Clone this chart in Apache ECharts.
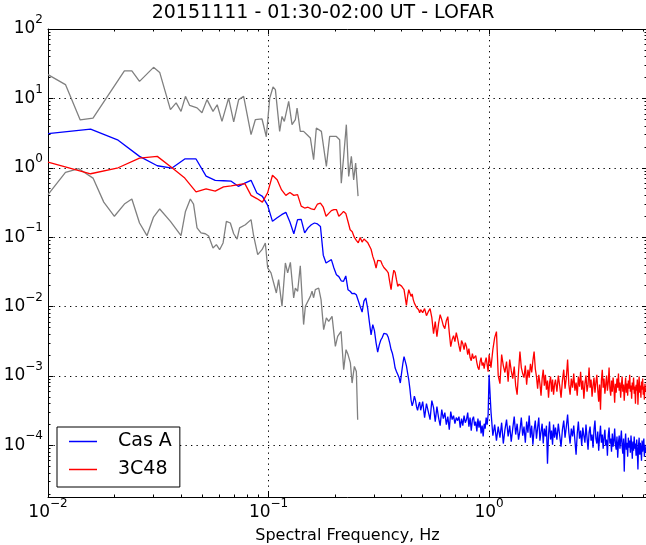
<!DOCTYPE html>
<html><head><meta charset="utf-8">
<script src="https://cdn.jsdelivr.net/npm/echarts@6/dist/echarts.min.js"></script>
<style>html,body{margin:0;padding:0;background:#fff}#chart{width:646px;height:545px}</style>
</head><body><div id="chart"></div>
<script>
const titleText = '20151111 - 01:30-02:00 UT - LOFAR';
const xAxisTitle = 'Spectral Frequency, Hz';
const seriesNames = ['Cas A', '3C48'];
const xMin = 0.01, xMax = 5.2, yMin = 1.8e-5, yMax = 100;

// low-frequency bins shared by Cas A and 3C48
const freqLo = [
0.0100,0.0156,0.0208,0.0260,0.0313,0.0365,0.0417,0.0469,0.0521,0.0573,
0.0625,0.0677,0.0729,0.0781,0.0833,0.0885,0.0938,0.0990,0.1042,0.1094,
0.1146,0.1198,0.1250,0.1302,0.1354,0.1406,0.1458,0.1510,0.1563,0.1615,
0.1667,0.1719,0.1771,0.1823,0.1875,0.1927,0.1979,0.2031,0.2083,0.2135,
0.2188,0.2240,0.2292,0.2344,0.2396,0.2448,0.2500,0.2552,0.2604,0.2656,
0.2708,0.2760,0.2813,0.2865,0.2917,0.2969,0.3021,0.3073,0.3125,0.3177,
0.3229,0.3281,0.3333,0.3385,0.3438,0.3490,0.3542,0.3594,0.3646,0.3698,
0.3750,0.3802,0.3854,0.3906,0.3958,0.4010,0.4063,0.4115,0.4167,0.4219,
0.4271,0.4323,0.4375,0.4427,0.4479,0.4531,0.4583,0.4635,0.4688,0.4740,
0.4792,0.4844,0.4896];
const casALo = [
3.1,3.6,2.5,1.46,1.07,0.99,1.34,1.34,0.76,0.66,
0.65,0.64,0.54,0.60,0.66,0.434,0.387,0.29,0.169,0.19,
0.211,0.228,0.165,0.112,0.179,0.18,0.115,0.136,0.151,0.16,
0.155,0.143,0.055,0.0425,0.045,0.0474,0.036,0.0288,0.027,0.0235,
0.0231,0.0276,0.0175,0.0166,0.0153,0.0155,0.0148,0.0157,0.0100,0.0083,
0.0120,0.0133,0.0096,0.006,0.0039,0.0055,0.0045,0.003,0.0022,0.0028,
0.0033,0.0036,0.0041,0.0043,0.0040,0.0036,0.0030,0.0024,0.0021,0.0017,
0.0013,0.00116,0.00105,0.00095,0.00079,0.0011,0.0015,0.0019,0.0019,0.0014,
0.0011,0.00088,0.00065,0.00045,0.00037,0.00042,0.00051,0.00045,0.00036,0.00032,
0.00038,0.00042,0.00032];
const c3c48Lo = [
1.21,0.82,1.00,1.38,1.46,1.00,0.71,0.45,0.495,0.46,
0.53,0.55,0.57,0.59,0.40,0.36,0.32,0.434,0.78,0.674,
0.48,0.40,0.44,0.40,0.41,0.28,0.263,0.27,0.256,0.25,
0.30,0.31,0.27,0.20,0.22,0.241,0.25,0.25,0.20,0.215,
0.235,0.22,0.168,0.128,0.12,0.10,0.09,0.083,0.099,0.085,
0.094,0.09,0.084,0.083,0.067,0.0528,0.045,0.0358,0.0463,0.045,
0.0455,0.040,0.0365,0.0358,0.0328,0.0305,0.0228,0.0175,0.0258,0.0334,
0.031,0.0244,0.0195,0.021,0.0217,0.0197,0.019,0.0175,0.0185,0.0104,
0.014,0.0175,0.0165,0.014,0.0152,0.0126,0.0112,0.0116,0.0097,0.0101,
0.0090,0.0081,0.009];

// high-frequency samples shared by Cas A and 3C48
const freqHi = [
0.50,0.51,0.52,0.53,0.54,0.55,0.56,0.57,0.58,0.59,
0.60,0.61,0.62,0.63,0.64,0.65,0.66,0.67,0.68,0.69,
0.70,0.71,0.72,0.73,0.74,0.75,0.76,0.77,0.78,0.79,
0.80,0.81,0.82,0.83,0.84,0.85,0.86,0.87,0.88,0.89,
0.90,0.91,0.92,0.93,0.94,0.95,0.96,0.97,0.98,0.99,
1.00,1.02,1.04,1.06,1.08,1.10,1.12,1.14,1.16,1.18,
1.20,1.22,1.24,1.26,1.28,1.30,1.32,1.34,1.36,1.38,
1.40,1.42,1.44,1.46,1.48,1.50,1.52,1.54,1.56,1.58,
1.60,1.62,1.64,1.66,1.68,1.70,1.72,1.74,1.76,1.78,
1.80,1.82,1.84,1.86,1.88,1.90,1.92,1.94,1.96,1.98,
2.00,2.03,2.06,2.09,2.12,2.15,2.18,2.21,2.24,2.27,
2.30,2.33,2.36,2.39,2.42,2.45,2.48,2.51,2.54,2.57,
2.60,2.63,2.66,2.69,2.72,2.75,2.78,2.81,2.84,2.87,
2.90,2.93,2.96,2.99,3.02,3.05,3.08,3.11,3.14,3.17,
3.20,3.23,3.26,3.29,3.32,3.35,3.38,3.41,3.44,3.47,
3.50,3.53,3.56,3.59,3.62,3.65,3.68,3.71,3.74,3.77,
3.80,3.83,3.86,3.89,3.92,3.95,3.98,4.01,4.04,4.07,
4.10,4.13,4.16,4.19,4.22,4.25,4.28,4.31,4.34,4.37,
4.40,4.43,4.46,4.49,4.52,4.55,4.58,4.61,4.64,4.67,
4.70,4.73,4.76,4.79,4.82,4.85,4.88,4.91,4.94,4.97,
5.00,5.03,5.06,5.09,5.12,5.15];
const casAHi = [
4.26e-4,2.51e-4,3.99e-4,3.06e-4,2.35e-4,4.41e-4,3.49e-4,2.20e-4,3.61e-4,2.51e-4,
1.92e-4,3.27e-4,2.43e-4,2.96e-4,1.99e-4,2.59e-4,1.68e-4,3.06e-4,2.35e-4,2.68e-4,
2.05e-4,2.51e-4,2.27e-4,2.59e-4,1.80e-4,2.43e-4,1.92e-4,2.68e-4,2.12e-4,2.35e-4,
2.96e-4,1.86e-4,2.51e-4,1.63e-4,2.35e-4,2.59e-4,1.92e-4,2.20e-4,1.58e-4,2.43e-4,
1.80e-4,2.27e-4,1.48e-4,1.92e-4,1.34e-4,2.05e-4,1.74e-4,2.51e-4,1.99e-4,2.77e-4,
1.04e-3,3.06e-4,1.38e-4,1.99e-4,1.17e-4,1.86e-4,1.29e-4,2.12e-4,1.06e-4,1.68e-4,
2.35e-4,1.34e-4,1.92e-4,1.13e-4,1.74e-4,2.59e-4,1.43e-4,2.05e-4,1.21e-4,1.63e-4,
2.51e-4,1.38e-4,1.86e-4,1.09e-4,2.20e-4,1.52e-4,2.68e-4,1.29e-4,1.92e-4,1.02e-4,
1.68e-4,2.27e-4,1.25e-4,1.80e-4,2.51e-4,1.17e-4,1.58e-4,2.05e-4,1.06e-4,1.74e-4,
1.34e-4,1.92e-4,5.45e-5,1.43e-4,2.20e-4,1.21e-4,1.63e-4,1.02e-4,1.99e-4,1.29e-4,
1.80e-4,1.21e-4,2.05e-4,1.38e-4,9.58e-5,1.68e-4,2.27e-4,1.29e-4,1.86e-4,2.77e-4,
1.52e-4,1.06e-4,1.74e-4,1.34e-4,1.92e-4,1.17e-4,7.34e-5,1.48e-4,2.20e-4,1.25e-4,
1.63e-4,9.9e-5,1.80e-4,1.38e-4,1.09e-4,1.99e-4,1.29e-4,8.67e-5,1.52e-4,1.86e-4,
1.17e-4,1.43e-4,9.27e-5,1.68e-4,2.27e-4,1.25e-4,1.06e-4,1.58e-4,8.39e-5,1.34e-4,
1.92e-4,1.09e-4,1.43e-4,8.96e-5,1.29e-4,1.68e-4,9.9e-5,1.21e-4,7.11e-5,1.38e-4,
1.80e-4,1.06e-4,1.25e-4,8.11e-5,1.48e-4,9.58e-5,1.17e-4,1.74e-4,1.02e-4,8.67e-5,
1.34e-4,6.65e-5,1.09e-4,1.38e-4,8.96e-5,1.21e-4,1.63e-4,9.58e-5,7.59e-5,1.25e-4,
4.18e-5,1.02e-4,1.48e-4,8.67e-5,1.09e-4,6.87e-5,1.29e-4,9.27e-5,1.17e-4,7.85e-5,
1.38e-4,9.9e-5,6.43e-5,1.13e-4,8.39e-5,1.34e-4,8.96e-5,1.06e-4,7.11e-5,1.21e-4,
8.11e-5,4.47e-5,9.9e-5,1.29e-4,7.34e-5,1.09e-4,8.67e-5,6.02e-5,1.17e-4,8.11e-5,
9.9e-5,1.25e-4,6.87e-5,1.02e-4,7.85e-5,9.27e-5];
const c3c48Hi = [
8.17e-3,9.35e-3,7.39e-3,8.44e-3,9.35e-3,6.92e-3,4.07e-3,6.06e-3,3.69e-3,5.67e-3,
7.64e-3,6.48e-3,5.31e-3,4.81e-3,6.26e-3,7.15e-3,4.21e-3,2.64e-3,3.34e-3,3.81e-3,
3.12e-3,4.21e-3,3.45e-3,2.73e-3,2.24e-3,3.23e-3,2.92e-3,2.39e-3,3.02e-3,2.64e-3,
2.03e-3,2.47e-3,1.84e-3,1.66e-3,2.10e-3,1.78e-3,1.90e-3,1.96e-3,1.56e-3,1.32e-3,
1.23e-3,1.61e-3,1.84e-3,1.41e-3,1.56e-3,1.27e-3,1.61e-3,1.84e-3,1.45e-3,1.15e-3,
2.03e-3,1.32e-3,2.39e-3,3.56e-3,4.35e-3,1.01e-3,7.74e-4,2.03e-3,1.41e-3,1.12e-3,
1.61e-3,8.28e-4,1.72e-3,1.19e-3,9.14e-4,1.36e-3,7.25e-4,5.38e-4,1.15e-3,2.24e-3,
1.32e-3,1.08e-3,9.45e-4,1.41e-3,7.49e-4,1.23e-3,9.45e-4,1.50e-3,1.12e-3,1.66e-3,
2.24e-3,1.27e-3,9.77e-4,6.56e-4,1.04e-3,7.74e-4,5.20e-4,9.14e-4,1.23e-3,7.25e-4,
1.04e-3,6.35e-4,8.56e-4,4.87e-4,8.01e-4,9.77e-4,5.94e-4,8.85e-4,5.38e-4,7.49e-4,
8.85e-4,5.94e-4,1.01e-3,7.25e-4,4.87e-4,8.56e-4,1.23e-3,6.56e-4,9.45e-4,1.72e-3,
7.49e-4,5.38e-4,9.14e-4,6.78e-4,1.08e-3,6.14e-4,8.01e-4,5.20e-4,9.77e-4,7.01e-4,
1.15e-3,6.35e-4,8.56e-4,4.71e-4,7.74e-4,1.01e-3,5.94e-4,7.49e-4,1.32e-3,6.78e-4,
8.85e-4,5.03e-4,7.25e-4,9.45e-4,5.75e-4,8.01e-4,1.04e-3,6.35e-4,4.26e-4,7.49e-4,
3.27e-4,8.56e-4,1.23e-3,6.78e-4,9.14e-4,5.56e-4,7.49e-4,1.01e-3,6.14e-4,8.01e-4,
1.32e-3,6.56e-4,5.20e-4,8.56e-4,5.94e-4,9.45e-4,7.01e-4,4.12e-4,7.74e-4,5.75e-4,
9.14e-4,6.78e-4,1.08e-3,6.14e-4,8.01e-4,4.87e-4,7.25e-4,9.77e-4,5.94e-4,7.49e-4,
4.41e-4,6.78e-4,9.45e-4,5.75e-4,7.74e-4,5.20e-4,8.56e-4,6.56e-4,1.04e-3,5.94e-4,
7.25e-4,4.71e-4,8.01e-4,6.35e-4,9.45e-4,5.56e-4,7.01e-4,3.99e-4,7.49e-4,6.14e-4,
8.85e-4,3.86e-4,6.78e-4,9.77e-4,5.75e-4,7.25e-4,4.87e-4,8.28e-4,6.35e-4,9.14e-4,
5.38e-4,7.01e-4,4.56e-4,7.74e-4,5.94e-4,6.56e-4];

// grey reference curves
const grayUpperFreq = [
0.0100,0.0120,0.0140,0.0160,0.0222,0.0240,0.0260,0.0301,0.0321,0.0359,
0.0381,0.0401,0.0420,0.0439,0.0474,0.0499,0.0526,0.0560,0.0585,0.0615,
0.0659,0.0695,0.0732,0.0771,0.0833,0.0871,0.0934,0.0977,0.1012,0.1048,
0.1074,0.1123,0.1151,0.1179,0.1234,0.1278,0.1323,0.1347,0.1393,0.1442,
0.1495,0.1547,0.1601,0.1647,0.1736,0.1829,0.1893,0.2030,0.2101,0.2137,
0.2191,0.2253,0.2309,0.2374,0.2432,0.2483,0.2546];
const grayUpperVal = [
22,15.8,4.9,5.2,25,25,17.6,28,23.7,6.9,
8.6,6.5,10.7,7.9,7.3,6.2,9.6,6.5,8.1,4.66,
10.1,4.6,9.6,10.7,3.0,4.93,5.05,2.8,10,14.6,
13.4,3.35,5.5,4.66,9.05,4.18,4.93,7.27,3.35,3.35,
3.0,2.69,1.31,3.75,3.35,1.05,2.83,2.83,2.54,0.60,
1.46,4.18,0.75,1.46,0.67,1.17,0.39];
const grayLowerFreq = [
0.0100,0.0120,0.0138,0.0160,0.0179,0.0200,0.0222,0.0240,0.0260,0.0281,
0.0301,0.0321,0.0359,0.0401,0.0420,0.0442,0.0457,0.0474,0.0494,0.0517,
0.0535,0.0560,0.0580,0.0600,0.0622,0.0644,0.0671,0.0695,0.0720,0.0739,
0.0785,0.0833,0.0856,0.0893,0.0934,0.0967,0.0991,0.1026,0.1085,0.1111,
0.1151,0.1192,0.1221,0.1256,0.1300,0.1323,0.1355,0.1393,0.1442,0.1469,
0.1547,0.1575,0.1601,0.1630,0.1688,0.1730,0.1778,0.1829,0.1874,0.1941,
0.2009,0.2058,0.2132,0.2191,0.2246,0.2293,0.2350,0.2392,0.2450,0.2501,
0.2536];
const grayLowerVal = [
0.41,0.86,0.97,0.71,0.32,0.20,0.30,0.355,0.16,0.105,
0.195,0.255,0.169,0.105,0.235,0.355,0.30,0.136,0.115,0.112,
0.104,0.070,0.078,0.066,0.0825,0.169,0.160,0.112,0.094,0.136,
0.151,0.179,0.104,0.056,0.066,0.0825,0.036,0.0305,0.0157,0.0244,
0.0101,0.0425,0.0305,0.0434,0.0133,0.0185,0.0166,0.0388,0.0055,0.0101,
0.0140,0.0166,0.0134,0.0175,0.0185,0.0126,0.00465,0.00686,0.00612,0.00723,
0.00267,0.00372,0.0044,0.00123,0.00239,0.00203,0.00154,0.00079,0.00137,0.00116,
0.000234];

const FONT = 'DejaVu Sans';
function pairs(f, v) { const n = Math.min(f.length, v.length); const out = []; for (let i = 0; i < n; i++) out.push([f[i], v[i]]); return out; }
function powLabel(val) {
  const e = Math.log10(val); const r = Math.round(e);
  if (Math.abs(e - r) > 1e-6) return '';
  const ex = r < 0 ? '\u2212' + (-r) : '' + r;
  return '{b|10}{s|' + ex + '}';
}
const richLabel = {
  b: { fontFamily: FONT, fontSize: 17, color: '#000', lineHeight: 17 },
  s: { fontFamily: FONT, fontSize: 12, color: '#000', lineHeight: 12, padding: [0, 0, 18, 0] }
};
const black = { color: '#000', width: 1 };
const gridDots = { color: '#000', width: 1, type: [1.3, 4.2] };

const chart = echarts.init(document.getElementById('chart'), null, { renderer: 'canvas' });
const lineBase = { type: 'line', showSymbol: false, symbol: 'none', animation: false, silent: true, clip: true, xAxisIndex: 0, yAxisIndex: 0 };
chart.setOption({
  animation: false,
  backgroundColor: '#fff',
  title: { text: titleText, left: 'center', top: 4, padding: [0, 0, 0, 48],
    textStyle: { fontFamily: FONT, fontSize: 19, fontWeight: 'normal', color: '#000' } },
  grid: { left: 48, right: -1, top: 29, bottom: 48, containLabel: false, outerBoundsMode: 'none' },
  legend: {
    orient: 'vertical', left: 57, top: 427,
    data: seriesNames,
    icon: 'rect', itemWidth: 28, itemHeight: 1.5, itemGap: 9,
    padding: [5, 8, 8, 12],
    borderColor: '#000', borderWidth: 1, borderRadius: 0, backgroundColor: '#fff',
    textStyle: { fontFamily: FONT, fontSize: 19, color: '#000', padding: [0, 0, 0, 16] },
    selectedMode: false
  },
  xAxis: [{
    type: 'log', logBase: 10, min: xMin, max: xMax, position: 'bottom',
    axisLine: { show: true, onZero: false, lineStyle: black },
    axisTick: { show: true, inside: true, length: 5, lineStyle: black },
    minorTick: { show: true, splitNumber: 9, length: 2.5, lineStyle: black },
    axisLabel: { formatter: powLabel, rich: richLabel, margin: 7, showMinLabel: true, showMaxLabel: true, hideOverlap: false, color: '#000' },
    splitLine: { show: true, lineStyle: gridDots },
    name: xAxisTitle, nameLocation: 'middle', nameGap: 31, nameMoveOverlap: false,
    nameTextStyle: { fontFamily: FONT, fontSize: 16, color: '#000' }
  }, {
    type: 'log', logBase: 10, min: xMin, max: xMax, position: 'top',
    axisLine: { show: true, onZero: false, lineStyle: black },
    axisTick: { show: true, inside: true, length: 5, lineStyle: black },
    minorTick: { show: true, splitNumber: 9, length: 2.5, lineStyle: black },
    axisLabel: { show: false }, splitLine: { show: false }
  }],
  yAxis: [{
    type: 'log', logBase: 10, min: yMin, max: yMax, position: 'left',
    axisLine: { show: true, onZero: false, lineStyle: black },
    axisTick: { show: true, inside: true, length: 5, lineStyle: black },
    minorTick: { show: true, splitNumber: 9, length: 2.5, lineStyle: black },
    axisLabel: { formatter: powLabel, rich: richLabel, margin: 5, showMinLabel: true, showMaxLabel: true, hideOverlap: false, color: '#000' },
    splitLine: { show: true, lineStyle: gridDots }
  }, {
    type: 'log', logBase: 10, min: yMin, max: yMax, position: 'right',
    axisLine: { show: true, onZero: false, lineStyle: black },
    axisTick: { show: true, inside: true, length: 5, lineStyle: black },
    minorTick: { show: true, splitNumber: 9, length: 2.5, lineStyle: black },
    axisLabel: { show: false }, splitLine: { show: false }
  }],
  series: [
    Object.assign({}, lineBase, { name: 'grey upper', data: pairs(grayUpperFreq, grayUpperVal),
      lineStyle: { color: '#808080', width: 1.3 }, itemStyle: { color: '#808080' } }),
    Object.assign({}, lineBase, { name: 'grey lower', data: pairs(grayLowerFreq, grayLowerVal),
      lineStyle: { color: '#808080', width: 1.3 }, itemStyle: { color: '#808080' } }),
    Object.assign({}, lineBase, { name: seriesNames[0], data: pairs(freqLo.concat(freqHi), casALo.concat(casAHi)),
      lineStyle: { color: '#0000ff', width: 1.3 }, itemStyle: { color: '#0000ff' } }),
    Object.assign({}, lineBase, { name: seriesNames[1], data: pairs(freqLo.concat(freqHi), c3c48Lo.concat(c3c48Hi)),
      lineStyle: { color: '#ff0000', width: 1.3 }, itemStyle: { color: '#ff0000' } })
  ]
});
</script>
</body></html>
